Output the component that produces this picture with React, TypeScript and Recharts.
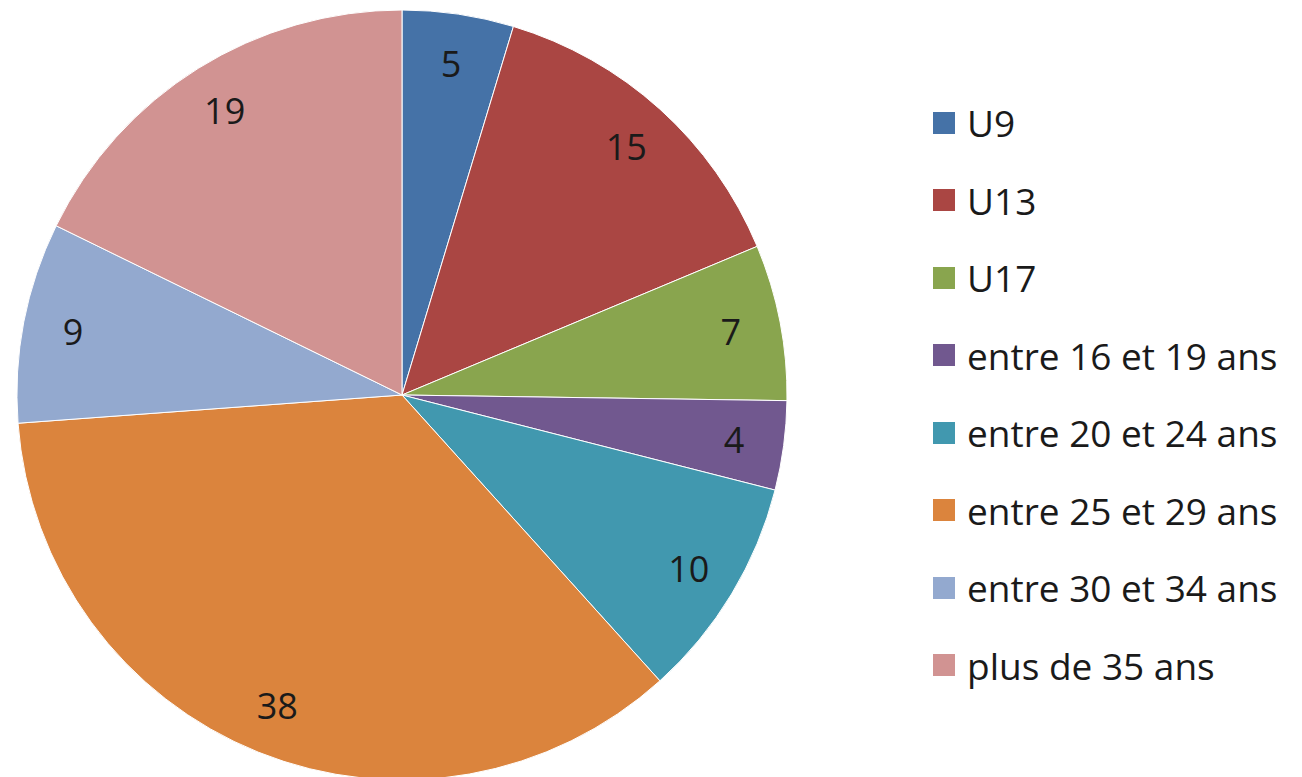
import { PieChart, Pie, Cell, Legend } from 'recharts';

// age groups and counts
const categories = [
  'U9',
  'U13',
  'U17',
  'entre 16 et 19 ans',
  'entre 20 et 24 ans',
  'entre 25 et 29 ans',
  'entre 30 et 34 ans',
  'plus de 35 ans',
];
const counts = [5, 15, 7, 4, 10, 38, 9, 19];
const colors = ['#4572A7', '#AA4643', '#89A54E', '#71588F', '#4198AF', '#DB843D', '#93A9CF', '#D19392'];

const data = categories.map((name, i) => ({ name, value: counts[i] }));

const FONT = "'Open Sans', sans-serif";
const RADIAN = Math.PI / 180;

const renderLabel = (props: any) => {
  const { cx, cy, midAngle, outerRadius, value } = props;
  const r = outerRadius * 0.87;
  const x = cx + r * Math.cos(-midAngle * RADIAN);
  const y = cy + r * Math.sin(-midAngle * RADIAN);
  return (
    <text x={x} y={y} fill="#1a1a1a" fontSize={36} fontFamily={FONT} textAnchor="middle" dominantBaseline="central">
      {value}
    </text>
  );
};

const renderLegend = () => (
  <div style={{ fontFamily: FONT, fontSize: 37, color: '#1a1a1a' }}>
    {categories.map((c, i) => (
      <div key={c} style={{ display: 'flex', alignItems: 'center', height: 77.5, whiteSpace: 'nowrap' }}>
        <span style={{ width: 22, height: 22, background: colors[i], display: 'inline-block', marginRight: 12, flexShrink: 0 }} />
        <span>{c}</span>
      </div>
    ))}
  </div>
);

export default function App() {
  return (
    <div style={{ position: 'fixed', left: 0, top: 0, background: '#fff' }}>
      <PieChart width={1302} height={777} margin={{ top: 0, right: 0, bottom: 0, left: 0 }}>
        <Pie
          data={data}
          dataKey="value"
          nameKey="name"
          cx={402}
          cy={395}
          outerRadius={385}
          startAngle={90}
          endAngle={-270}
          stroke="#ffffff"
          strokeWidth={1}
          label={renderLabel}
          labelLine={false}
          isAnimationActive={false}
        >
          {data.map((d, i) => (
            <Cell key={d.name} fill={colors[i]} />
          ))}
        </Pie>
        <Legend content={renderLegend} layout="vertical" wrapperStyle={{ left: 933, top: 84, width: 369 }} />
      </PieChart>
    </div>
  );
}
